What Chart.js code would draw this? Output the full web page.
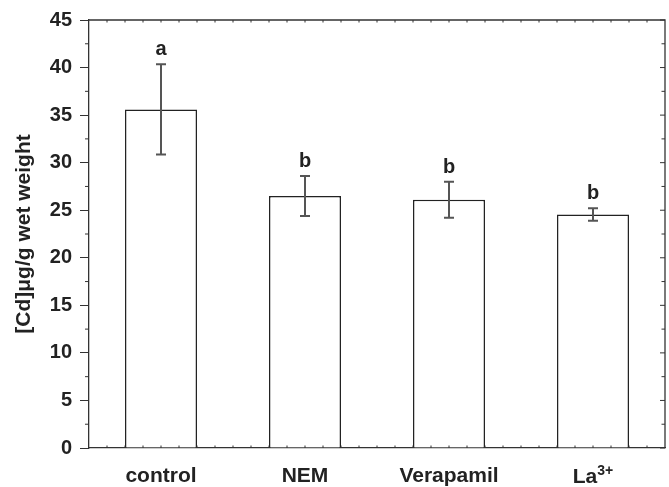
<!DOCTYPE html>
<html>
<head>
<meta charset="utf-8">
<script src="https://cdn.jsdelivr.net/npm/chart.js@4/dist/chart.umd.min.js"></script>
<style>
  html, body { margin: 0; padding: 0; background: #fff; }
  #wrap { width: 669px; height: 487px; position: relative; }
</style>
</head>
<body>
<div id="wrap"><canvas id="c"></canvas></div>
<script>
const categories = ['control', 'NEM', 'Verapamil', 'La3+'];
const means = [35.6, 26.5, 26.1, 24.55];
const errors = [4.75, 2.1, 1.9, 0.67];
const letters = ['a', 'b', 'b', 'b'];
const yTicks = [0, 5, 10, 15, 20, 25, 30, 35, 40, 45];
const yTitle = '[Cd]\u03bcg/g wet weight';

const FONT = '"Liberation Sans", Arial, Helvetica, sans-serif';
const INK = '#222';

const extras = {
  id: 'extras',
  afterDatasetsDraw(chart) {
    const { ctx, chartArea: a, scales: { x, y } } = chart;
    ctx.save();
    // error bars
    ctx.strokeStyle = '#555';
    ctx.lineWidth = 2;
    means.forEach((m, i) => {
      const cx = x.getPixelForValue(i);
      const yt = y.getPixelForValue(m + errors[i]);
      const yb = y.getPixelForValue(m - errors[i]);
      ctx.beginPath();
      ctx.moveTo(cx, yt); ctx.lineTo(cx, yb);
      ctx.moveTo(cx - 5, yt); ctx.lineTo(cx + 5, yt);
      ctx.moveTo(cx - 5, yb); ctx.lineTo(cx + 5, yb);
      ctx.stroke();
      // significance letters
      ctx.fillStyle = INK;
      ctx.font = 'bold 20px ' + FONT;
      ctx.textAlign = 'center';
      ctx.textBaseline = 'alphabetic';
      ctx.fillText(letters[i], cx, yt - 9);
    });
    // frame (top and right)
    ctx.strokeStyle = '#333';
    ctx.lineWidth = 1.3;
    ctx.beginPath();
    ctx.moveTo(a.left, a.top); ctx.lineTo(a.right, a.top); ctx.lineTo(a.right, a.bottom);
    ctx.stroke();
    // minor ticks on y (left outward, right inward)
    ctx.lineWidth = 1;
    for (let v = 0; v <= 45; v += 2.5) {
      const py = y.getPixelForValue(v);
      ctx.beginPath();
      if (v % 5 !== 0) { ctx.moveTo(a.left - 4, py); ctx.lineTo(a.left, py); }
      ctx.moveTo(a.right - (v % 5 === 0 ? 5 : 3.5), py); ctx.lineTo(a.right, py);
      ctx.stroke();
    }
    // small ticks on top and bottom
    const n = categories.length * 8;
    for (let k = 1; k < n; k++) {
      const px = a.left + k * (a.right - a.left) / n;
      ctx.beginPath();
      ctx.moveTo(px, a.top); ctx.lineTo(px, a.top + 2.5);
      ctx.moveTo(px, a.bottom); ctx.lineTo(px, a.bottom - 2.5);
      ctx.stroke();
    }
    // La3+ label with superscript
    const i = 3;
    const cx = x.getPixelForValue(i);
    ctx.fillStyle = INK;
    ctx.textBaseline = 'alphabetic';
    ctx.textAlign = 'left';
    ctx.font = 'bold 21px ' + FONT;
    const wLa = ctx.measureText('La').width;
    ctx.font = 'bold 14px ' + FONT;
    const wSup = ctx.measureText('3+').width;
    const start = cx - (wLa + wSup) / 2;
    const base = a.bottom + 35;
    ctx.font = 'bold 21px ' + FONT;
    ctx.fillText('La', start, base);
    ctx.font = 'bold 14px ' + FONT;
    ctx.fillText('3+', start + wLa, base - 8.5);
    ctx.restore();
  }
};

new Chart(document.getElementById('c'), {
  type: 'bar',
  data: {
    labels: categories,
    datasets: [{
      data: means,
      backgroundColor: '#ffffff',
      borderColor: '#222',
      borderWidth: 1.5,
      borderSkipped: 'bottom',
      barPercentage: 0.5,
      categoryPercentage: 1.0
    }]
  },
  options: {
    responsive: true,
    maintainAspectRatio: false,
    animation: false,
    layout: { padding: { left: 0, top: 17, right: 4, bottom: 0 } },
    plugins: { legend: { display: false }, tooltip: { enabled: false } },
    scales: {
      x: {
        grid: { display: false, drawTicks: false },
        border: { display: true, color: '#333', width: 1.3 },
        ticks: {
          color: INK,
          font: { family: FONT, size: 21, weight: 'bold' },
          padding: 16,
          maxRotation: 0,
          callback: (v, i) => (i === 3 ? '' : categories[i])
        },
        afterFit: s => { s.height = 39; }
      },
      y: {
        min: 0, max: 45,
        afterBuildTicks: s => { s.ticks = yTicks.map(v => ({ value: v })); },
        grid: { drawOnChartArea: false, drawTicks: true, tickLength: 9, color: '#333', lineWidth: 1 },
        border: { display: true, color: '#333', width: 1.3 },
        ticks: {
          color: INK,
          font: { family: FONT, size: 20, weight: 'bold' },
          padding: 8
        },
        title: {
          display: true,
          text: yTitle,
          color: INK,
          font: { family: FONT, size: 21, weight: 'bold' },
          padding: { top: 12, bottom: 0 }
        },
        afterFit: s => { s.width = 89; }
      }
    }
  },
  plugins: [extras]
});
</script>
</body>
</html>
